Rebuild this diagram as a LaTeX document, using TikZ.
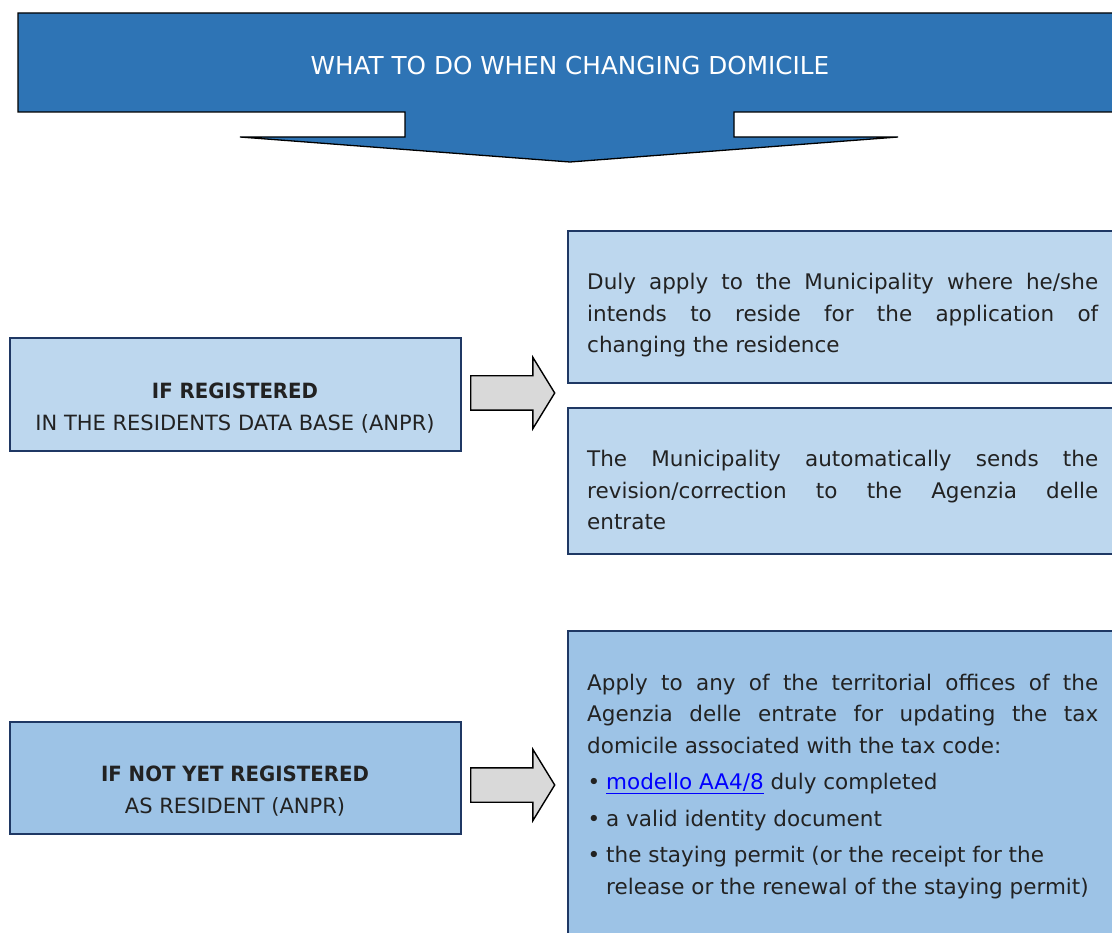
\documentclass[tikz,border=0pt]{standalone}
\usepackage{fontspec}
\setmainfont{DejaVu Sans}[BoldFeatures={FakeStretch=0.94}]
\usetikzlibrary{shapes.arrows}

\definecolor{headblue}{HTML}{2E74B5}
\definecolor{paleblue}{HTML}{BDD7EE}
\definecolor{midblue}{HTML}{9DC3E6}
\definecolor{navy}{HTML}{1F3864}
\definecolor{arrowgray}{HTML}{D9D9D9}
\definecolor{inkgray}{HTML}{222222}
\definecolor{linkblue}{HTML}{0000FF}

\newcommand{\bulletitem}[1]{\par\hangindent=19pt\hangafter=1\noindent\makebox[19pt][l]{\hspace{0.5pt}•}#1}

\begin{document}
\begin{tikzpicture}[x=1pt, y=-1pt,
    box/.style = {draw = navy, line width = 1.6pt, anchor = north west, inner sep = 0pt},
    sidetext/.style = {align = center, text = inkgray, font = \fontsize{21}{32}\selectfont},
    bodytext/.style = {text width = 511pt, align = justify, anchor = base west, inner sep = 0pt,
        text = inkgray, font = \fontsize{21.5}{31.5}\selectfont},
    blockarrow/.style = {single arrow, draw = black, fill = arrowgray, line width = 1.4pt,
        minimum height = 84pt, inner xsep = 0pt, inner ysep = 16.5pt, single arrow head extend = 18.5pt,
        single arrow tip angle = 117, anchor = tail}
]
    \useasboundingbox (0,0) rectangle (1112,933);
    \clip (0,0) rectangle (1112,933);

    % Title banner with the wedge pointing down
    \draw[fill = headblue, line width = 1.3pt]
        (18,13) -- (1125,13) -- (1125,112) -- (734,112) -- (734,137) -- (898,137)
        -- (570,162) -- (240,137) -- (405,137) -- (405,112) -- (18,112) -- cycle;
    \node[text = white, font = \fontsize{24.7}{28}\selectfont] (title) at (570,65.5) {WHAT TO DO WHEN CHANGING DOMICILE};

    % Left column: the two cases
    \node[box, fill = paleblue, minimum width = 451pt, minimum height = 113pt] (registered) at (9,337) {};
    \node[sidetext] (registeredtxt) at (235,408) {\textbf{IF REGISTERED}\\IN THE RESIDENTS DATA BASE (ANPR)};

    \node[box, fill = midblue, minimum width = 451pt, minimum height = 112pt] (notregistered) at (9,721) {};
    \node[sidetext] (notregisteredtxt) at (235,791) {\textbf{IF NOT YET REGISTERED}\\AS RESIDENT (ANPR)};

    % Right column: what to do in each case
    \node[box, fill = paleblue, minimum width = 560pt, minimum height = 152pt] (applymun) at (567,230) {};
    \node[bodytext] (applymuntxt) at (587,290) {Duly apply to the Municipality where he/she\linebreak
        intends to reside for the application of\linebreak changing the residence};

    \node[box, fill = paleblue, minimum width = 560pt, minimum height = 146pt] (sendrev) at (567,407) {};
    \node[bodytext] (sendrevtxt) at (587,467) {The Municipality automatically sends the\linebreak
        revision/correction to the Agenzia delle\linebreak entrate};

    \node[box, fill = midblue, minimum width = 560pt, minimum height = 330pt] (applyagency) at (567,630) {};
    \node[bodytext] (applyagencytxt) at (587,690) {\setlength{\parskip}{5pt}%
        Apply to any of the territorial offices of the\linebreak
        Agenzia delle entrate for updating the tax\linebreak
        domicile associated with the tax code:\par
        \raggedright
        \bulletitem{\textcolor{linkblue}{\underline{modello AA4/8}} duly completed}
        \bulletitem{a valid identity document}
        \bulletitem{the staying permit (or the receipt for the\break release or the renewal of the staying permit)}\par};

    % Block arrows between the columns
    \foreach \i/\y in {1/393, 2/785} {
        \node[blockarrow] (arrow\i) at (470,\y) {};
    }
\end{tikzpicture}
\end{document}
